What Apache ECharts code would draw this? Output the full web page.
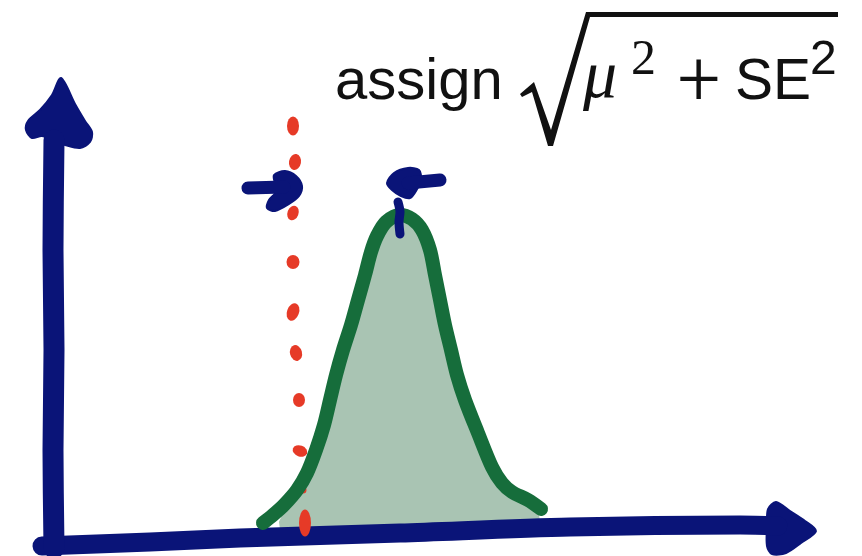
<!DOCTYPE html>
<html>
<head>
<meta charset="utf-8">
<title>assign sqrt(mu^2 + SE^2)</title>
<script src="https://cdn.jsdelivr.net/npm/echarts@6/dist/echarts.min.js"></script>
<style>
  html, body { margin: 0; padding: 0; background: #ffffff; }
  #chart { width: 862px; height: 556px; }
</style>
</head>
<body>
<div id="chart"></div>
<script>
// Sketch coordinates: x to the right, y measured downward from the top edge.

// Bell-shaped sampling distribution (centre line of the stroke)
const curvePoints = [
  [263, 523], [273, 515], [284, 505], [297, 490], [307, 473], [316, 450],
  [324, 425], [330, 400], [336, 375], [343, 350], [351, 325], [358, 300],
  [365, 275], [371, 252], [377, 236], [386, 222], [400, 215], [412, 219],
  [422, 230], [430, 250], [435, 275], [440, 300], [445, 325], [451, 350],
  [457, 375], [465, 400], [478, 433], [492, 467], [502, 483], [512, 492],
  [528, 500], [541, 509]
];

// Shaded area under the curve, closed along the horizontal axis
const areaStart = [[282, 536], [280, 522], [289, 503]];
const areaEnd = [[538, 514], [540, 531]];

// Red dotted reference line (x = 0 of the effect)
const refDots = [
  [293, 126], [295, 162], [293, 213], [293, 262], [293, 312],
  [296, 353], [299, 400], [300, 451], [303, 490], [305, 523]
];

// Hand-drawn axes
const xAxisStroke = [[42, 546], [150, 542], [240, 538], [400, 533], [570, 527], [740, 525], [778, 526]];
const xAxisHead = [[767, 525], [768, 509], [776, 502], [790, 511], [805, 521], [816, 531], [801, 543], [786, 553], [772, 554], [767, 546]];
const yAxisStroke = [[54, 548], [53, 450], [54, 350], [53, 250], [54, 140]];
const yAxisHead = [[61, 78], [52, 95], [40, 110], [28, 121], [26, 130], [32, 138], [42, 136], [54, 141], [65, 145], [80, 148], [90, 142], [92, 132], [85, 121], [75, 104]];

// Arrows squeezing the estimate toward zero, and the tick at the mean
const leftArrowStroke = [[248, 188], [284, 187]];
const leftArrowHead = [[274, 175], [285, 171], [296, 176], [302, 186], [299, 196], [289, 204], [275, 211], [267, 208], [269, 200], [275, 193], [275, 184]];
const rightArrowStroke = [[440, 180], [408, 183]];
const rightArrowHead = [[387, 183], [394, 173], [408, 168], [419, 170], [421, 179], [416, 191], [410, 198], [401, 196], [392, 190]];
const meanTick = [[398, 202], [400, 212], [399, 222], [400, 234]];

// Per-dot styling for the red marks: [width, height, rotation]
const dotShapes = [
  [12, 19, 0], [12, 16, -10], [11, 15, -20], [13, 14, 0], [12, 18, -20],
  [12, 16, 15], [12, 14, 0], [15, 11, -20], [7, 7, 0], [12, 27, 0]
];

const NAVY = '#0a1478';
const GREEN = '#166d3b';
const FILL = '#a9c4b3';
const RED = '#e63a27';

function lineSeries(points, color, width, z, smooth) {
  return {
    type: 'line',
    data: points,
    z: z,
    silent: true,
    symbol: 'none',
    smooth: smooth || false,
    lineStyle: { color: color, width: width, cap: 'round', join: 'round' }
  };
}

function polygonSeries(points, color, z, smooth) {
  return {
    type: 'custom',
    coordinateSystem: 'cartesian2d',
    z: z,
    silent: true,
    data: [points[0]],
    renderItem: function (params, api) {
      return {
        type: 'polygon',
        shape: { points: points.map(function (p) { return api.coord(p); }), smooth: smooth || 0 },
        style: { fill: color, stroke: color, lineWidth: 2, lineJoin: 'round' }
      };
    }
  };
}

const areaOutline = areaStart.concat(curvePoints.slice(3, 31)).concat(areaEnd);

const chart = echarts.init(document.getElementById('chart'), null, { renderer: 'canvas' });

chart.setOption({
  animation: false,
  backgroundColor: '#ffffff',
  grid: { left: 0, right: 0, top: 0, bottom: 0 },
  xAxis: { type: 'value', min: 0, max: 862, show: false },
  yAxis: { type: 'value', min: 0, max: 556, inverse: true, show: false },
  series: [
    polygonSeries(areaOutline, FILL, 1, 0),
    lineSeries(xAxisStroke, NAVY, 19, 2, 0.3),
    lineSeries(yAxisStroke, NAVY, 21, 2, 0.3),
    polygonSeries(xAxisHead, NAVY, 2, 0.3),
    polygonSeries(yAxisHead, NAVY, 2, 0.3),
    {
      type: 'scatter',
      data: refDots,
      z: 3,
      silent: true,
      symbol: 'circle',
      symbolSize: function (val, params) { const s = dotShapes[params.dataIndex]; return [s[0], s[1]]; },
      symbolRotate: function (val, params) { return dotShapes[params.dataIndex][2]; },
      itemStyle: { color: RED, opacity: 1 }
    },
    lineSeries(curvePoints, GREEN, 14, 4, 0.3),
    lineSeries(leftArrowStroke, NAVY, 13, 5),
    polygonSeries(leftArrowHead, NAVY, 5, 0.3),
    lineSeries(rightArrowStroke, NAVY, 13, 5),
    polygonSeries(rightArrowHead, NAVY, 5, 0.3),
    lineSeries(meanTick, NAVY, 9, 5, 0.3)
  ],
  graphic: [
    { type: 'text', x: 335, y: 83, silent: true,
      style: { text: 'assign', font: '58px "Liberation Sans"', fill: '#111111', verticalAlign: 'middle' } },
    // radical sign with its overbar
    { type: 'polygon', silent: true,
      shape: { points: [[520, 94], [534, 82], [551, 130], [586, 12], [838, 12], [838, 17], [590, 17], [553, 146], [548, 146], [532, 92], [522, 97]] },
      style: { fill: '#111111' } },
    { type: 'text', x: 583, y: 79, silent: true,
      style: { text: 'μ', font: 'italic 68px "Liberation Serif"', fill: '#111111', verticalAlign: 'middle' } },
    { type: 'text', x: 631, y: 61, silent: true,
      style: { text: '2', font: '50px "Liberation Serif"', fill: '#111111', verticalAlign: 'middle' } },
    { type: 'text', x: 699, y: 85, silent: true,
      style: { text: '+', font: '300 76px Roboto', fill: '#111111', align: 'center', verticalAlign: 'middle' } },
    { type: 'text', x: 735, y: 83, silent: true,
      style: { text: 'SE', font: '57px "Liberation Sans"', fill: '#111111', verticalAlign: 'middle' } },
    { type: 'text', x: 810, y: 61, silent: true,
      style: { text: '2', font: '48px "Liberation Sans"', fill: '#111111', verticalAlign: 'middle' } }
  ]
});
</script>
</body>
</html>
